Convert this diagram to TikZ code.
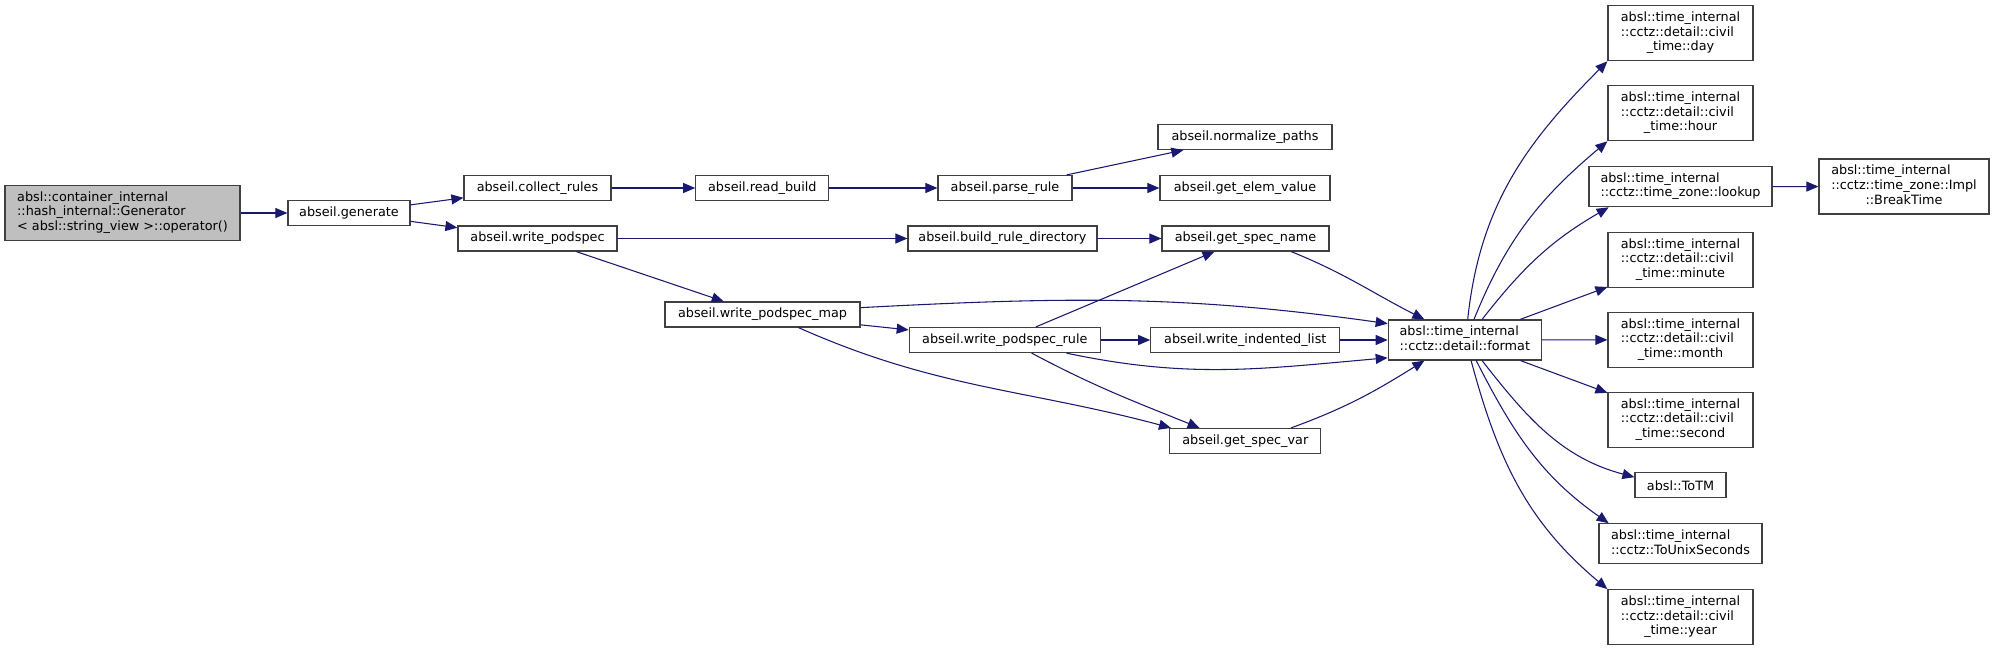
\documentclass[tikz,border=0pt]{standalone}
\usepackage{fontspec}
\setmainfont{DejaVu Sans}
\usetikzlibrary{arrows.meta}
\definecolor{edgeblue}{HTML}{191970}
\definecolor{boxgray}{HTML}{404040}
\definecolor{rootfill}{HTML}{BFBFBF}
% lines left aligned, last line centred
\newcommand{\fnlines}[2]{\begin{tabular}{@{}l@{}}#1\\\multicolumn{1}{@{}c@{}}{#2}\end{tabular}}

\begin{document}
\begin{tikzpicture}[x=0.75pt, y=0.75pt,
    fn/.style={draw=boxgray, line width=0.9pt, fill=white, inner sep=0pt,
               minimum height=18.75pt, font=\fontsize{9.6}{11}\selectfont},
    fntwo/.style={fn, minimum height=30pt},
    fnthree/.style={fn, minimum height=41.25pt},
    wide/.style={minimum width=#1*0.75pt},
    call/.style={-{Triangle[length=9pt, width=7.5pt]}, draw=edgeblue, line width=0.8pt}
  ]
    \useasboundingbox (0,0) rectangle (1995,-651);

    \node[fnthree, fill=rootfill, wide=235] (root) at (122.5,-213)
      {\fnlines{absl::container\_internal\\::hash\_internal::Generator}{< absl::string\_view >::operator()}};
    \node[fn, wide=122] (generate)     at (349,-213)    {abseil.generate};
    \node[fn, wide=147] (collect)      at (537.5,-188)  {abseil.collect\_rules};
    \node[fn, wide=159] (writepodspec) at (537.5,-238.5){abseil.write\_podspec};
    \node[fn, wide=133] (readbuild)    at (762.3,-188)  {abseil.read\_build};
    \node[fn, wide=195] (podspecmap)   at (762.5,-314.5){abseil.write\_podspec\_map};
    \node[fn, wide=134] (parserule)    at (1005,-188)   {abseil.parse\_rule};
    \node[fn, wide=189] (buildrule)    at (1002.5,-238.5){abseil.build\_rule\_directory};
    \node[fn, wide=191] (podspecrule)  at (1004.8,-340) {abseil.write\_podspec\_rule};
    \node[fn, wide=174] (normalize)    at (1245,-137)   {abseil.normalize\_paths};
    \node[fn, wide=170] (elemvalue)    at (1245,-188)   {abseil.get\_elem\_value};
    \node[fn, wide=167] (specname)     at (1245.5,-238.5){abseil.get\_spec\_name};
    \node[fn, wide=189] (indented)     at (1245.3,-340) {abseil.write\_indented\_list};
    \node[fn, wide=151] (specvar)      at (1245.3,-441) {abseil.get\_spec\_var};
    \node[fntwo, wide=153] (format)    at (1464.8,-340)
      {\fnlines{absl::time\_internal}{::cctz::detail::format}};

    \node[fnthree, wide=145] (day)    at (1680.5,-33.2)
      {\fnlines{absl::time\_internal\\::cctz::detail::civil}{\_time::day}};
    \node[fnthree, wide=145] (hour)   at (1680.5,-113.2)
      {\fnlines{absl::time\_internal\\::cctz::detail::civil}{\_time::hour}};
    \node[fntwo, wide=183] (lookup)   at (1680.5,-186.7)
      {\fnlines{absl::time\_internal}{::cctz::time\_zone::lookup}};
    \node[fnthree, wide=170] (breaktime) at (1904,-186.5)
      {\fnlines{absl::time\_internal\\::cctz::time\_zone::Impl}{::BreakTime}};
    \node[fnthree, wide=145] (minute) at (1680.5,-259.8)
      {\fnlines{absl::time\_internal\\::cctz::detail::civil}{\_time::minute}};
    \node[fnthree, wide=145] (month)  at (1680.5,-339.8)
      {\fnlines{absl::time\_internal\\::cctz::detail::civil}{\_time::month}};
    \node[fnthree, wide=145] (second) at (1680.5,-419.8)
      {\fnlines{absl::time\_internal\\::cctz::detail::civil}{\_time::second}};
    \node[fn, wide=91] (totm)         at (1680.5,-485.3) {absl::ToTM};
    \node[fntwo, wide=163] (tounix)   at (1680.5,-543.8)
      {\fnlines{absl::time\_internal}{::cctz::ToUnixSeconds}};
    \node[fnthree, wide=145] (year)   at (1680.5,-617.2)
      {\fnlines{absl::time\_internal\\::cctz::detail::civil}{\_time::year}};

    % abseil side
    \draw[call] (root) -- (generate);
    \draw[call] (generate) -- (collect);
    \draw[call] (generate) -- (writepodspec);
    \draw[call] (collect) -- (readbuild);
    \draw[call] (readbuild) -- (parserule);
    \draw[call] (parserule) -- (normalize);
    \draw[call] (parserule) -- (elemvalue);
    \draw[call] (writepodspec) -- (buildrule);
    \draw[call] (writepodspec) -- (podspecmap);
    \draw[call] (buildrule) -- (specname);
    \draw[call] (podspecmap) -- (podspecrule);
    \draw[call] (podspecmap.4) to[out=3, in=172] (format.168);
    \draw[call] (podspecmap.-20) to[out=-24, in=165] (specvar.170);
    \draw[call] (podspecrule) -- (specname);
    \draw[call] (podspecrule) -- (indented);
    \draw[call] (podspecrule.-12) to[out=-12, in=185] (format.193);
    \draw[call] (podspecrule.-26) to[out=-28, in=158] (specvar.164);
    \draw[call] (specname.-16) to[out=-22, in=153] (format.153);
    \draw[call] (indented) -- (format);
    \draw[call] (specvar.16) to[out=20, in=212] (format.207);

    % format fan-out
    \draw[call] (format.82) to[out=84, in=225] (day.south west);
    \draw[call] (format.66) to[out=68, in=220] (hour.south west);
    \draw[call] (format.50) to[out=52, in=210] (lookup.196);
    \draw[call] (format) -- (minute);
    \draw[call] (format) -- (month);
    \draw[call] (format) -- (second);
    \draw[call] (format.-50) to[out=-52, in=165] (totm.170);
    \draw[call] (format.-61) to[out=-63, in=145] (tounix.164);
    \draw[call] (format.-73) to[out=-75, in=140] (year.north west);
    \draw[call] (lookup) -- (breaktime);
  \end{tikzpicture}
\end{document}
